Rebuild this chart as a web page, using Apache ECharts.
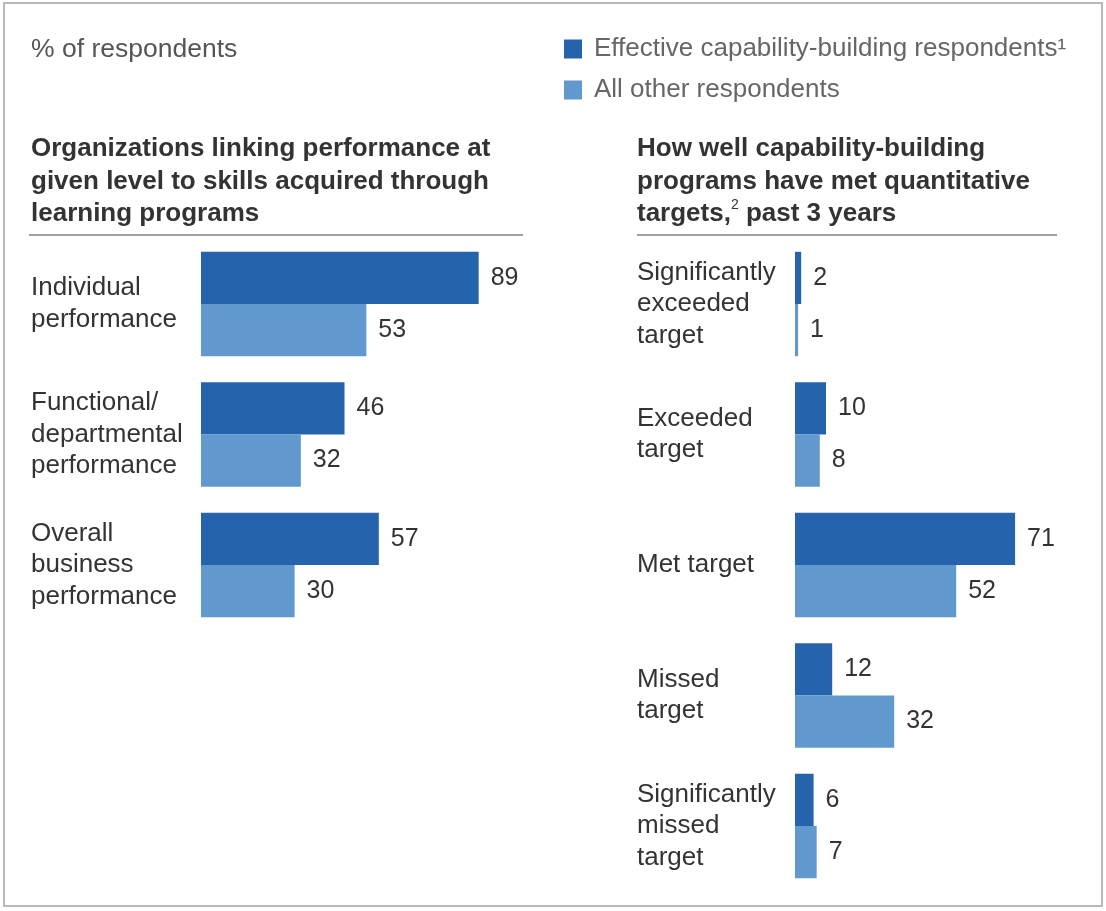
<!DOCTYPE html>
<html>
<head>
<meta charset="utf-8">
<script src="https://cdn.jsdelivr.net/npm/echarts@6/dist/echarts.min.js"></script>
<style>html,body{margin:0;padding:0;background:#fff;}#c{width:1106px;height:911px;}</style>
</head>
<body>
<div id="c"></div>
<script>
var leftCategories = ['Individual\nperformance', 'Functional/\ndepartmental\nperformance', 'Overall\nbusiness\nperformance'];
var leftEffective = [89, 46, 57];
var leftOther = [53, 32, 30];

var rightCategories = ['Significantly\nexceeded\ntarget', 'Exceeded\ntarget', 'Met target', 'Missed\ntarget', 'Significantly\nmissed\ntarget'];
var rightEffective = [2, 10, 71, 12, 6];
var rightOther = [1, 8, 52, 32, 7];

var seriesNames = ['Effective capability-building respondents\u00B9', 'All other respondents'];

var FONT = '"Liberation Sans", Arial, Helvetica, sans-serif';
var DARK = '#2563ad';
var LIGHT = '#6199cf';

var chart = echarts.init(document.getElementById('c'));

function valLabel() {
  return { show: true, position: 'right', distance: 12, color: '#333', fontSize: 25, fontFamily: FONT };
}

var option = {
  animation: false,
  backgroundColor: '#fff',
  textStyle: { fontFamily: FONT },
  title: [
    { text: '% of respondents', left: 31, top: 36, padding: 0, textStyle: { fontSize: 26.5, fontWeight: 'normal', color: '#555', fontFamily: FONT } },
    { text: 'Organizations linking performance at\ngiven level to skills acquired through\nlearning programs', left: 31, top: 133, padding: 0,
      textStyle: { fontSize: 26, fontWeight: 'bold', color: '#333', lineHeight: 32.5, fontFamily: FONT } },
    { text: '{b|How well capability-building}\n{b|programs have met quantitative}\n{b|targets,}{s|2}{b| past 3 years}', left: 637, top: 133, padding: 0,
      textStyle: { fontFamily: FONT, lineHeight: 32.5,
        rich: {
          b: { fontSize: 26, fontWeight: 'bold', color: '#333', lineHeight: 32.5, fontFamily: FONT },
          s: { fontSize: 14, fontWeight: 'normal', color: '#333', verticalAlign: 'top', lineHeight: 32.5, padding: [0, 0, 6, 0], fontFamily: FONT }
        } } }
  ],
  legend: {
    data: seriesNames,
    orient: 'vertical',
    left: 564, top: 36, padding: 0,
    itemWidth: 18, itemHeight: 19, itemGap: 15,
    icon: 'rect',
    textStyle: { fontSize: 26, color: '#666', fontFamily: FONT, padding: [0, 0, 0, 7] }
  },
  grid: [
    { left: 201, top: 238.75, width: 312, height: 391.5 },
    { left: 795, top: 238.75, width: 310, height: 652.5 }
  ],
  xAxis: [
    { gridIndex: 0, type: 'value', min: 0, max: 100, show: false },
    { gridIndex: 1, type: 'value', min: 0, max: 100, show: false }
  ],
  yAxis: [
    { gridIndex: 0, type: 'category', data: leftCategories, inverse: true,
      axisLine: { show: false }, axisTick: { show: false },
      axisLabel: { interval: 0, align: 'left', margin: 170, fontSize: 26, color: '#333', lineHeight: 31.5, padding: [6, 0, 0, 0], fontFamily: FONT } },
    { gridIndex: 1, type: 'category', data: rightCategories, inverse: true,
      axisLine: { show: false }, axisTick: { show: false },
      axisLabel: { interval: 0, align: 'left', margin: 158, fontSize: 26, color: '#333', lineHeight: 31.5, padding: [6, 0, 0, 0], fontFamily: FONT } }
  ],
  series: [
    { name: seriesNames[0], type: 'bar', xAxisIndex: 0, yAxisIndex: 0, data: leftEffective, itemStyle: { color: DARK }, barGap: '0%', barCategoryGap: '20%', label: valLabel() },
    { name: seriesNames[1], type: 'bar', xAxisIndex: 0, yAxisIndex: 0, data: leftOther, itemStyle: { color: LIGHT }, barGap: '0%', barCategoryGap: '20%', label: valLabel() },
    { name: seriesNames[0], type: 'bar', xAxisIndex: 1, yAxisIndex: 1, data: rightEffective, itemStyle: { color: DARK }, barGap: '0%', barCategoryGap: '20%', label: valLabel() },
    { name: seriesNames[1], type: 'bar', xAxisIndex: 1, yAxisIndex: 1, data: rightOther, itemStyle: { color: LIGHT }, barGap: '0%', barCategoryGap: '20%', label: valLabel() }
  ],
  graphic: [
    { type: 'rect', shape: { x: 4, y: 3, width: 1098, height: 903 }, style: { fill: 'none', stroke: '#b8b8b8', lineWidth: 2 }, silent: true },
    { type: 'line', shape: { x1: 29, y1: 235, x2: 523, y2: 235 }, style: { stroke: '#a0a0a0', lineWidth: 2 }, silent: true },
    { type: 'line', shape: { x1: 637, y1: 235, x2: 1057, y2: 235 }, style: { stroke: '#a0a0a0', lineWidth: 2 }, silent: true }
  ]
};
chart.setOption(option);
</script>
</body>
</html>
